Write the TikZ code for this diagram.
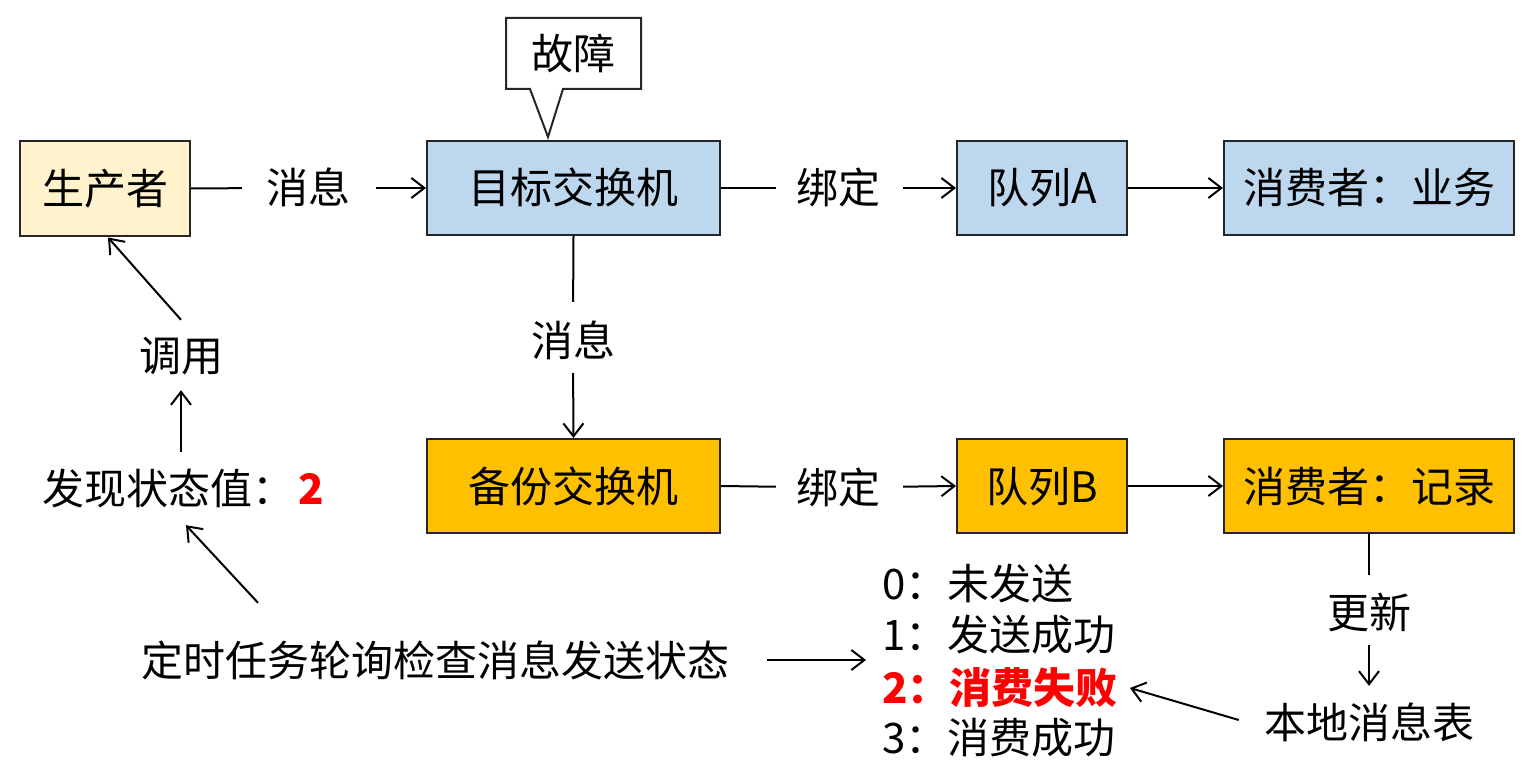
\documentclass[tikz,border=0pt]{standalone}
\usepackage{fontspec}
\setmainfont{Noto Sans CJK SC}
\usetikzlibrary{arrows.meta,calc}
\definecolor{yel}{HTML}{FFF2CC}
\definecolor{blu}{HTML}{BDD7EE}
\definecolor{org}{HTML}{FFC000}
\definecolor{red2}{HTML}{FF0000}
\begin{document}
\begin{tikzpicture}[x=1pt,y=-1pt,
  txt/.style={font=\fontsize{42}{50}\selectfont, text height=35pt, text depth=3pt},
  box/.style={txt, draw=black!85, line width=2pt, minimum height=94pt, inner sep=0pt},
  lbl/.style={txt, inner sep=0pt},
  conn/.style={line width=2pt},
  arr/.style={line width=2pt, -{Straight Barb[length=13pt,width=20pt,line width=2pt]}}]
\useasboundingbox (0,0) rectangle (1529,765);
\fill[white] (0,0) rectangle (1529,765);
% boxes
\node[box, fill=yel, minimum width=170pt] (prod) at (105,188.5) {生产者};
\node[box, fill=blu, minimum width=293pt] (tgt) at (573.5,188) {目标交换机};
\node[box, fill=blu, minimum width=170pt] (qA) at (1042,188) {队列A};
\node[box, fill=blu, minimum width=290pt] (cA) at (1369,188) {消费者：业务};
\node[box, fill=org, minimum width=293pt] (alt) at (573.5,486) {备份交换机};
\node[box, fill=org, minimum width=170pt] (qB) at (1042,486) {队列B};
\node[box, fill=org, minimum width=290pt] (cB) at (1369,486) {消费者：记录};
% callout
\draw[line width=2pt, draw=black!85, fill=white, line join=miter]
  (506,18) -- (641,18) -- (641,89) -- (563,89) -- (548,137) -- (530,89) -- (506,89) -- cycle;
\node[lbl] (fault) at (573.5,54) {故障};
% labels
\node[lbl] (m1) at (308,188) {消息};
\node[lbl] (b1) at (838,188) {绑定};
\node[lbl] (m2) at (573,340) {消息};
\node[lbl] (b2) at (838,487) {绑定};
\node[lbl] (upd) at (1369,612) {更新};
\node[lbl] (tbl) at (1369,722) {本地消息表};
\node[lbl] (use) at (181,355) {调用};
\node[lbl, anchor=west] (found) at (42,488) {发现状态值：\hspace{4pt}{\color{red2}\bfseries 2}};
\node[lbl] (task) at (435,660) {定时任务轮询检查消息发送状态};
\node[lbl, anchor=west] (s0) at (882,583) {0：未发送};
\node[lbl, anchor=west] (s1) at (882,634) {1：发送成功};
\node[lbl, anchor=west, text=red2] (s2) at (882,687) {\bfseries 2：消费失败};
\node[lbl, anchor=west] (s3) at (882,737) {3：消费成功};
\coordinate (listin) at (866,660);
% connectors row 1
\draw[conn, shorten >=24pt] (prod.east) -- (m1.west);
\draw[arr, shorten <=26pt] (m1.east) -- (tgt.west);
\draw[conn, shorten >=20pt] (tgt.east) -- (b1.west);
\draw[arr, shorten <=23pt] (b1.east) -- (qA.west);
\draw[arr] (qA.east) -- (cA.west);
% vertical
\draw[conn, shorten >=19pt] (tgt.south) -- (m2.north);
\draw[arr, shorten <=14pt] (m2.south) -- (alt.north);
% row 2
\draw[conn, shorten >=20pt] (alt.east) -- (b2.west);
\draw[arr, shorten <=23pt] (b2.east) -- (qB.west);
\draw[arr] (qB.east) -- (cB.west);
\draw[conn, shorten >=18pt] (cB.south) -- (upd.north);
\draw[arr, shorten <=14pt, shorten >=17pt] (upd.south) -- (tbl.north);
\draw[arr] ($(tbl.west)+(-25,-2)$) -- ($(s2.east)+(12,1)$);
% left side
\draw[arr, shorten <=38pt] (task.east) -- (listin);
\draw[arr] ($(task.north)+(-177,-38)$) -- ($(found.south)+(3,18)$);
\draw[arr, shorten <=17pt, shorten >=16pt] (found.north -| use.south) -- (use.south);
\draw[arr] ($(use.north)+(0,-16)$) -- ($(prod.south)+(3,1)$);
\end{tikzpicture}
\end{document}
